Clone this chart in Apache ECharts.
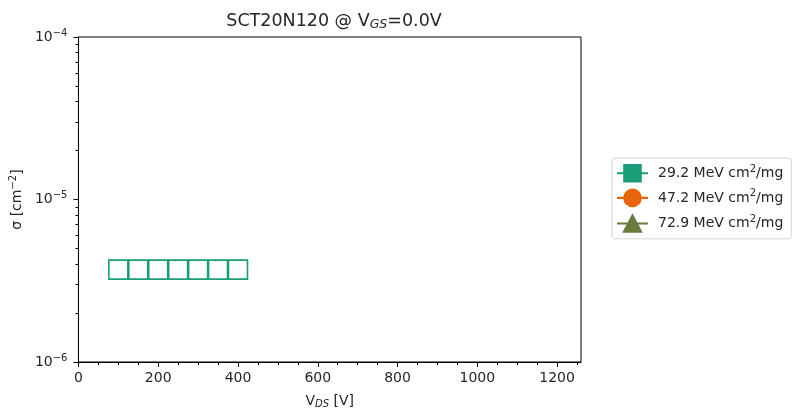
<!DOCTYPE html>
<html>
<head>
<meta charset="utf-8">
<script src="https://cdn.jsdelivr.net/npm/echarts@6/dist/echarts.min.js"></script>
<style>
  html, body { margin: 0; padding: 0; background: #fff; }
  #main { width: 798px; height: 414px; }
</style>
</head>
<body>
<div id="main"></div>
<script>
"use strict";

// 数据
var vds = [100, 150, 200, 250, 300, 350, 400];
var sigma_292 = [3.7e-6, 3.7e-6, 3.7e-6, 3.7e-6, 3.7e-6, 3.7e-6, 3.7e-6];
var let_names = ['29.2 MeV cm{sup|2}/mg', '47.2 MeV cm{sup|2}/mg', '72.9 MeV cm{sup|2}/mg'];
var series_keys = ['29.2', '47.2', '72.9'];
var colors = ['#1b9e77', '#e8650f', '#6b7a3f'];
var x_ticks = [0, 200, 400, 600, 800, 1000, 1200];

// 次刻度位置
var y_minor = [];
for (var e = -6; e < -4; e++) {
    for (var k = 2; k <= 9; k++) {
        y_minor.push(e + Math.log10(k));
    }
}
var x_minor = [];
for (var x = 50; x < 1260; x += 50) {
    if (x % 200 != 0) x_minor.push(x);
}

var font = 'DejaVu Sans';
var text_color = '#262626';
var fs = 14;

var icons = [
    'path://M0,9h30v2h-30z M6,1h18v18h-18z',
    'path://M0,9h30v2h-30z M15,1A9,9,0,1,1,14.99,1z',
    'path://M0,9h30v2h-30z M15,0L25,19L5,19z'
];

var sup_style = { fontFamily: font, fontSize: 10, color: text_color, verticalAlign: 'top', padding: [0, 0, 8, 0] };
var sub_style = { fontFamily: font, fontSize: 10, fontStyle: 'italic', color: text_color, verticalAlign: 'bottom', padding: [6, 0, 0, 0] };

var chart = echarts.init(document.getElementById('main'));

var option = {
    animation: false,
    title: {
        text: 'SCT20N120 @ V{sub|GS}=0.0V',
        left: 329,
        textAlign: 'center',
        top: 6,
        textStyle: {
            fontFamily: font, fontSize: 17.5, fontWeight: 'normal', color: text_color,
            rich: {
                sub: { fontFamily: font, fontSize: 12.5, fontStyle: 'italic', color: text_color, verticalAlign: 'bottom', padding: [7, 0, 0, 0] }
            }
        }
    },
    grid: {
        left: 77, right: 217, top: 37, bottom: 50,
        show: true, borderColor: '#000', borderWidth: 1
    },
    legend: {
        orient: 'vertical',
        left: 612, top: 158,
        padding: [6, 8, 6, 5],
        itemGap: 6,
        itemWidth: 31, itemHeight: 20,
        borderColor: '#d5d5d5', borderWidth: 1, borderRadius: 3,
        data: series_keys.map(function (k, i) {
            return { name: k, icon: icons[i], itemStyle: { color: colors[i], opacity: 1, borderWidth: 0 } };
        }),
        formatter: function (name) { return let_names[series_keys.indexOf(name)]; },
        textStyle: {
            fontFamily: font, fontSize: fs, color: text_color, padding: [0, 0, 0, 5],
            rich: { sup: sup_style }
        }
    },
    xAxis: [{
        type: 'value',
        min: 0, max: 1260, interval: 200,
        name: 'V{sub|DS} [V]',
        nameLocation: 'middle', nameGap: 31,
        nameTextStyle: {
            fontFamily: font, fontSize: fs, color: text_color,
            rich: { sub: sub_style }
        },
        axisLine: { show: true, onZero: false, lineStyle: { color: '#000', width: 1 } },
        axisTick: { show: true, length: 5, customValues: x_ticks, lineStyle: { color: '#000' } },
        splitLine: { show: false },
        axisLabel: {
            fontFamily: font, fontSize: fs, color: text_color, margin: 9,
            customValues: x_ticks,
            formatter: function (v) { return String(v); }
        }
    }, {
        // 仅用于画次刻度
        type: 'value',
        min: 0, max: 1260,
        position: 'bottom',
        axisLine: { show: false },
        axisLabel: { show: false },
        splitLine: { show: false },
        axisTick: { show: true, length: 3, customValues: x_minor, lineStyle: { color: '#000' } }
    }],
    yAxis: [{
        type: 'log',
        logBase: 10,
        min: 1e-6, max: 1e-4,
        name: 'σ [cm{sup|−2}]',
        nameLocation: 'middle', nameGap: 48, nameRotate: 90,
        nameTextStyle: {
            fontFamily: font, fontSize: fs, color: text_color,
            rich: { sup: sup_style }
        },
        axisLine: { show: true, lineStyle: { color: '#000', width: 1 } },
        axisTick: { show: true, length: 5, lineStyle: { color: '#000' } },
        splitLine: { show: false },
        axisLabel: {
            margin: 11,
            formatter: function (v) {
                var p = Math.round(Math.log10(v));
                return '10{sup|' + (p < 0 ? '−' + (-p) : p) + '}';
            },
            fontFamily: font, fontSize: fs, color: text_color,
            rich: { sup: sup_style }
        }
    }, {
        // 仅用于画次刻度
        type: 'value',
        min: -6, max: -4,
        position: 'left',
        axisLine: { show: false },
        axisLabel: { show: false },
        splitLine: { show: false },
        axisTick: { show: true, length: 3, customValues: y_minor, lineStyle: { color: '#000' } }
    }],
    series: [{
        name: '29.2',
        type: 'scatter',
        symbol: 'rect',
        symbolSize: 19,
        itemStyle: { color: '#fff', borderColor: colors[0], borderWidth: 1.6, opacity: 1 },
        data: vds.map(function (v, i) { return [v, sigma_292[i]]; })
    }, {
        name: '47.2',
        type: 'scatter',
        itemStyle: { color: colors[1] },
        data: []
    }, {
        name: '72.9',
        type: 'scatter',
        itemStyle: { color: colors[2] },
        data: []
    }]
};

chart.setOption(option);
</script>
</body>
</html>
